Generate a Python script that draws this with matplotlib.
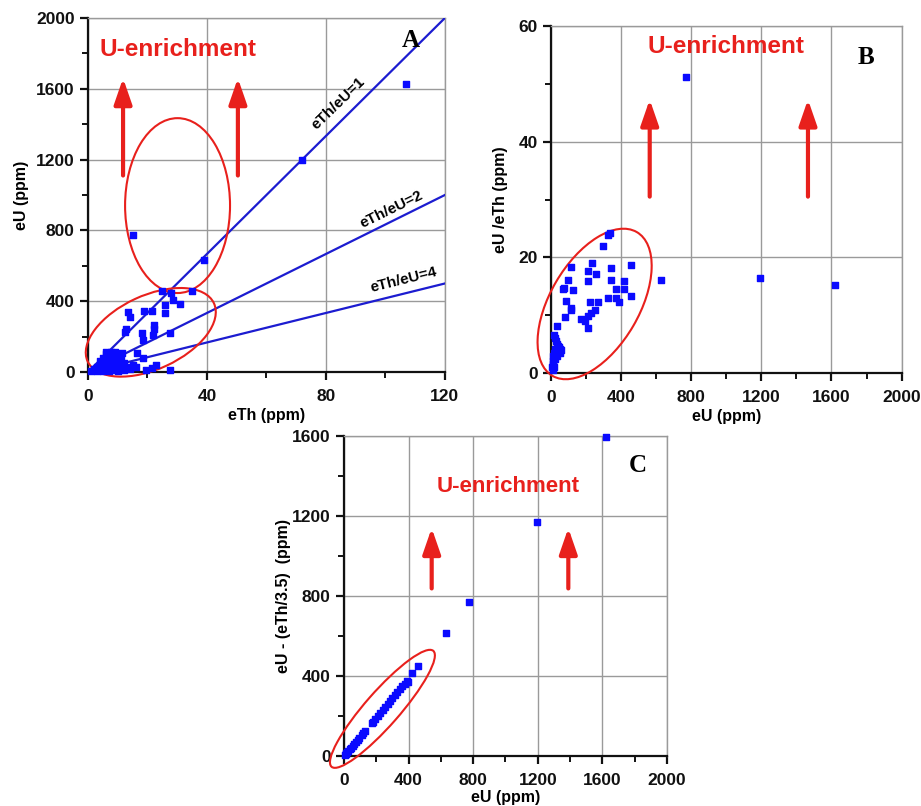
import matplotlib
matplotlib.use('Agg')
import matplotlib.pyplot as plt
from matplotlib.patches import Ellipse
from matplotlib.ticker import MultipleLocator

plt.rcParams['font.family'] = ['Liberation Sans', 'DejaVu Sans']

# Panel A: eTh vs eU (ppm)
eth_a = [107, 72, 15, 39, 25, 28, 28.5, 31, 35, 26, 13.5, 14, 19, 21.5, 26, 12.4,
         12.8, 18, 18.6, 22.2, 22.3, 21.9, 27.6, 16.5, 11.3, 7.9, 18.6, 23, 21.4, 27.6,
         19.5, 1, 2, 3, 4, 4, 5, 5, 6, 6, 7, 7, 8, 8, 8, 9, 9, 10, 10, 11, 12, 12, 13,
         14, 15, 6, 9, 10, 3, 5, 7, 16, 11]
eu_a = [1625, 1195, 775, 630, 460, 445, 408, 385, 455, 378, 340, 310, 346, 346, 335, 228,
        240, 222, 181, 265, 240, 210, 220, 107, 107, 115, 77, 40, 23, 11,
        12, 5, 15, 30, 40, 60, 20, 80, 50, 100, 30, 70, 10, 50, 90, 20, 60, 40, 5, 25,
        50, 10, 30, 15, 40, 110, 110, 80, 5, 5, 5, 30, 70]
ratio_lines = [1, 2, 4]
ratio_labels = ['eTh/eU=1', 'eTh/eU=2', 'eTh/eU=4']

# Panel B: eU vs eU/eTh
eu_b = [773, 1191, 1620, 627, 336, 327, 298, 114, 237, 213, 260, 346, 456, 213, 99, 74,
        70, 127, 346, 418, 418, 370, 460, 327, 374, 387, 85, 114, 118, 222, 270, 251,
        232, 213, 175, 194, 213, 80, 38, 20, 25, 30, 35, 40, 45, 55, 30, 20, 15, 25,
        35, 10, 15, 5, 10, 20, 25, 50, 60]
ratio_b = [51.2, 16.5, 15.2, 16.1, 24.2, 23.9, 22.0, 18.4, 19.1, 17.6, 17.1, 18.2, 18.7,
           15.9, 16.1, 14.7, 14.5, 14.4, 16.0, 15.9, 14.6, 14.5, 13.3, 12.9, 13.0, 12.3,
           12.5, 11.3, 10.9, 12.3, 12.3, 10.9, 10.3, 9.9, 9.3, 9.0, 7.8, 9.6, 8.1, 6.5,
           6.0, 5.5, 5.0, 4.7, 4.5, 4.2, 4.0, 3.5, 3.0, 2.5, 3.0, 2.0, 1.5, 1.0, 0.5,
           1.0, 4.2, 3.5, 4.0]

# Panel C: eU vs eU - eTh/3.5
eu_c = [1622, 1193, 776, 630, 460, 419, 398, 388, 375, 360, 345, 330, 318, 300, 285,
        270, 255, 240, 225, 210, 195, 180, 171, 130, 120, 110, 95, 85, 75, 65, 55, 45,
        35, 25, 20, 15, 10, 5]
diff_c = [1593, 1172, 768, 617, 450, 413, 372, 375, 362, 348, 333, 318, 305, 290, 275,
          258, 245, 230, 215, 200, 185, 172, 165, 125, 115, 105, 92, 82, 72, 62, 52, 42,
          33, 24, 18, 13, 9, 4]

RED = '#e8201c'
BLUE = '#0a0aff'


def style_axes(ax, xmaj, ymaj):
    ax.xaxis.set_major_locator(MultipleLocator(xmaj))
    ax.xaxis.set_minor_locator(MultipleLocator(xmaj / 2))
    ax.yaxis.set_major_locator(MultipleLocator(ymaj))
    ax.yaxis.set_minor_locator(MultipleLocator(ymaj / 2))
    ax.grid(True, which='major', color='#9a9a9a', lw=1)
    ax.set_axisbelow(True)
    for s in ['top', 'right']:
        ax.spines[s].set_color('#9a9a9a')
        ax.spines[s].set_linewidth(1)
    for s in ['left', 'bottom']:
        ax.spines[s].set_linewidth(1.6)
        ax.spines[s].set_color('#111111')
    ax.tick_params(which='major', direction='out', length=6, width=1.6, labelsize=12.5,
                   colors='#111111')
    ax.tick_params(axis='x', which='major', pad=6)
    ax.tick_params(axis='y', which='major', pad=3.5)
    ax.tick_params(which='minor', direction='out', length=4, width=1.4, colors='#111111')
    for lab in ax.get_xticklabels() + ax.get_yticklabels():
        lab.set_fontweight('bold')


def arrows(ax, xs, y0, y1):
    for x in xs:
        ax.annotate('', xy=(x, y1), xytext=(x, y0),
                    arrowprops=dict(arrowstyle='-|>,head_width=0.45,head_length=1.3',
                                    color=RED, lw=3, mutation_scale=12,
                                    shrinkA=0, shrinkB=0))


def oval(ax, cx, cy, w, h, angle):
    ax.add_patch(Ellipse((cx, cy), w, h, angle=angle, transform=ax.transAxes,
                         fill=False, ec=RED, lw=1.5, clip_on=False, zorder=4))


fig = plt.figure(figsize=(9.21, 8.06), dpi=100)

# ---- A
axA = fig.add_axes([0.0955, 0.5385, 0.3876, 0.4392])
axA.set_xlim(0, 120)
axA.set_ylim(0, 2000)
style_axes(axA, 40, 400)
for r in ratio_lines:
    axA.plot([0, 120], [0, 2000 / r], color='#1c1cd0', lw=1.6, zorder=3)
axA.scatter(eth_a, eu_a, marker='s', s=18, color=BLUE, zorder=5, clip_on=False)
axA.text(84, 1515, ratio_labels[0], rotation=44, fontsize=11, fontweight='bold',
         ha='center', va='center')
axA.text(102, 920, ratio_labels[1], rotation=26, fontsize=11, fontweight='bold',
         ha='center', va='center')
axA.text(106, 518, ratio_labels[2], rotation=14, fontsize=11, fontweight='bold',
         ha='center', va='center')
axA.text(4, 1820, 'U-enrichment', color=RED, fontsize=17.5, fontweight='bold', va='center')
axA.text(108.5, 1870, 'A', family='Liberation Serif', fontsize=18, fontweight='bold',
         ha='center', va='center')
arrows(axA, [11.8, 50.4], 1110, 1660)
oval(axA, 0.251, 0.470, 0.294, 0.494, 0)
oval(axA, 0.176, 0.112, 0.39, 0.208, 25)
axA.set_xlabel('eTh (ppm)', fontsize=11.5, fontweight='bold', labelpad=3)
axA.set_ylabel('eU (ppm)', fontsize=11.5, fontweight='bold', labelpad=5)

# ---- B
axB = fig.add_axes([0.598, 0.5372, 0.381, 0.4305])
axB.set_xlim(0, 2000)
axB.set_ylim(0, 60)
style_axes(axB, 400, 20)
axB.scatter(eu_b, ratio_b, marker='s', s=18, color=BLUE, zorder=5, clip_on=False)
axB.text(553, 56.4, 'U-enrichment', color=RED, fontsize=17.5, fontweight='bold', va='center')
axB.text(1795, 54.5, 'B', family='Liberation Serif', fontsize=18, fontweight='bold',
         ha='center', va='center')
arrows(axB, [564, 1466], 30.5, 47.3)
oval(axB, 0.125, 0.199, 0.479, 0.254, 60)
axB.set_xlabel('eU (ppm)', fontsize=11.5, fontweight='bold', labelpad=3)
axB.set_ylabel('eU /eTh (ppm)', fontsize=11.5, fontweight='bold', labelpad=7)

# ---- C
axC = fig.add_axes([0.3735, 0.062, 0.3507, 0.397])
axC.set_xlim(0, 2000)
axC.set_ylim(0, 1600)
style_axes(axC, 400, 400)
axC.scatter(eu_c, diff_c, marker='s', s=16, color=BLUE, zorder=5, clip_on=False)
axC.text(574, 1347, 'U-enrichment', color=RED, fontsize=16, fontweight='bold', va='center')
axC.text(1822, 1455, 'C', family='Liberation Serif', fontsize=18, fontweight='bold',
         ha='center', va='center')
arrows(axC, [543, 1389], 838, 1140)
oval(axC, 0.119, 0.1475, 0.48, 0.106, 49)
axC.set_xlabel('eU (ppm)', fontsize=11.5, fontweight='bold', labelpad=2)
axC.set_ylabel('eU - (eTh/3.5)  (ppm)', fontsize=11.5, fontweight='bold', labelpad=1)

fig.savefig('out.png', dpi=100)
